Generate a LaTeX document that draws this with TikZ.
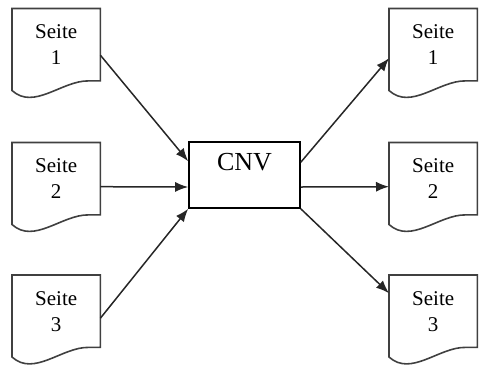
\documentclass[tikz,border=0pt]{standalone}
\usepackage{fontspec}
\setmainfont{Liberation Serif}
\usetikzlibrary{arrows.meta}
\begin{document}
\begin{tikzpicture}[x=1pt,y=-1pt,
  docnode/.style={rectangle,draw=none,inner sep=0pt,minimum width=88pt,minimum height=72pt,anchor=north west,align=center,font=\fontsize{21}{26}\selectfont},
  docline/.style={draw=black!75,line width=1.6pt,line join=miter},
  boxnode/.style={rectangle,draw=black,line width=1.6pt,minimum width=111pt,minimum height=66pt,inner sep=0pt,text depth=26pt,font=\fontsize{26}{30}\selectfont},
  conn/.style={line width=1.5pt,black!85,-{Latex[length=13pt,width=10pt]}}]
\useasboundingbox (0,0) rectangle (479,365);
\newcommand{\docoutline}[1]{%
  \draw[docline] (#1.north west) -- (#1.north east) -- (#1.south east)
    -- ([shift={(-12,0)}]#1.south east)
    .. controls ([shift={(50,72)}]#1.north west) and ([shift={(22,102)}]#1.north west)
    .. ([shift={(0,82)}]#1.north west) -- cycle;}
\node[docnode] (l1) at (12,8.5) {Seite\\1};
\node[docnode] (l2) at (12,142.5) {Seite\\2};
\node[docnode] (l3) at (12,275) {Seite\\3};
\node[docnode] (r1) at (389,8.5) {Seite\\1};
\node[docnode] (r2) at (389,142.5) {Seite\\2};
\node[docnode] (r3) at (389,275) {Seite\\3};
\foreach \n in {l1,l2,l3,r1,r2,r3}{\docoutline{\n}}
\node[boxnode] (cnv) at (244.5,175) {CNV};
\draw[conn] ([shift={(0,10.5)}]l1.east) -- ([shift={(0,20)}]cnv.north west);
\draw[conn] ([shift={(0,8)}]l2.east) -- ([shift={(0,12)}]cnv.west);
\draw[conn] ([shift={(0,7)}]l3.east) -- (cnv.south west);
\draw[conn] ([shift={(0,21)}]cnv.north east) -- ([shift={(0,13.5)}]r1.west);
\draw[conn] ([shift={(0,12)}]cnv.east) -- ([shift={(0,8)}]r2.west);
\draw[conn] (cnv.south east) -- ([shift={(0,-18)}]r3.west);
\end{tikzpicture}
\end{document}
